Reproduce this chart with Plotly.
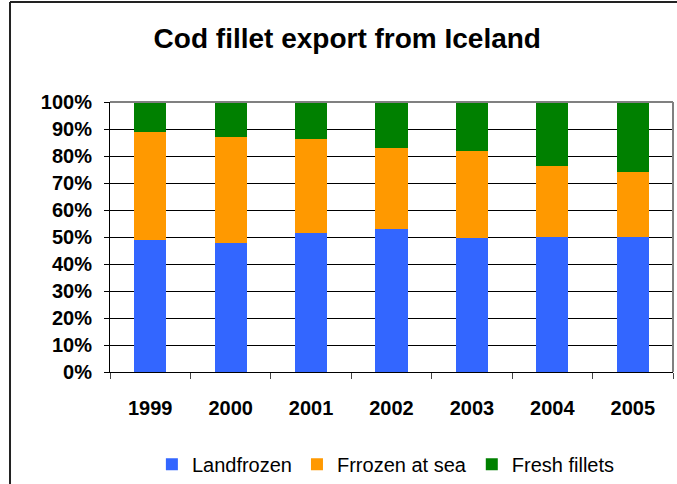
import plotly.graph_objects as go

years = ["1999", "2000", "2001", "2002", "2003", "2004", "2005"]
landfrozen = [48.9, 47.8, 51.5, 53.0, 49.8, 50.1, 50.1]
frozen_at_sea = [40.1, 39.3, 34.9, 30.0, 32.1, 26.3, 24.0]
fresh_fillets = [11.0, 12.9, 13.6, 17.0, 18.1, 23.6, 25.9]

font = "Arial, Liberation Sans, sans-serif"

fig = go.Figure()
fig.add_bar(x=years, y=landfrozen, name="Landfrozen", marker_color="#3366FF", marker_line_width=0)
fig.add_bar(x=years, y=frozen_at_sea, name="Frrozen at sea", marker_color="#FF9900", marker_line_width=0)
fig.add_bar(x=years, y=fresh_fillets, name="Fresh fillets", marker_color="#008000", marker_line_width=0)

fig.update_layout(
    barmode="stack",
    bargap=0.6,
    width=677, height=484,
    margin=dict(l=110, r=4, t=102, b=112, autoexpand=False),
    paper_bgcolor="white", plot_bgcolor="white",
    font=dict(family=font, color="black"),
    title=dict(text="<b>Cod fillet export from Iceland</b>", x=0.513, xref="container",
               y=0.921, yref="container", xanchor="center", yanchor="middle",
               font=dict(size=28, family=font, color="black")),
    legend=dict(orientation="h", x=0.57, xref="container", xanchor="center",
                y=0.041, yref="container", yanchor="middle",
                font=dict(size=20, family=font), traceorder="normal"),
    shapes=[
        # chart frame, only left and top edges are in view
        dict(type="line", xref="paper", yref="paper", x0=-0.1776, x1=-0.1776, y0=-0.45, y1=1.37,
             line=dict(color="#222222", width=2)),
        dict(type="line", xref="paper", yref="paper", x0=-0.1776, x1=1.0071, y0=1.37, y1=1.37,
             line=dict(color="#222222", width=2)),
        # gray plot-area border top and right
        dict(type="line", xref="paper", yref="paper", x0=0, x1=1, y0=1, y1=1,
             line=dict(color="#808080", width=2)),
        dict(type="line", xref="paper", yref="paper", x0=1, x1=1, y0=0, y1=1,
             line=dict(color="#808080", width=2)),
    ],
)

fig.update_yaxes(range=[0, 100], dtick=10, ticksuffix="%", showgrid=True, gridcolor="black",
                 gridwidth=1, showline=True, linecolor="black", linewidth=1,
                 ticks="outside", ticklen=5, tickcolor="black", ticklabelstandoff=8,
                 automargin=False,
                 tickfont=dict(size=20, family=font, color="black", weight="bold"), zeroline=False)
fig.update_xaxes(showline=True, linecolor="black", linewidth=1, ticks="outside",
                 tickson="boundaries", ticklen=6, tickcolor="#444444", showgrid=False,
                 ticklabelstandoff=18, automargin=False,
                 tickfont=dict(size=20, family=font, color="black", weight="bold"))

# drop the default page margin and scrollbars so the figure sits at the window corner
fig.write_html("out.html", config={"displayModeBar": False},
               post_script="document.body.style.margin='0';document.body.style.overflow='hidden';")
